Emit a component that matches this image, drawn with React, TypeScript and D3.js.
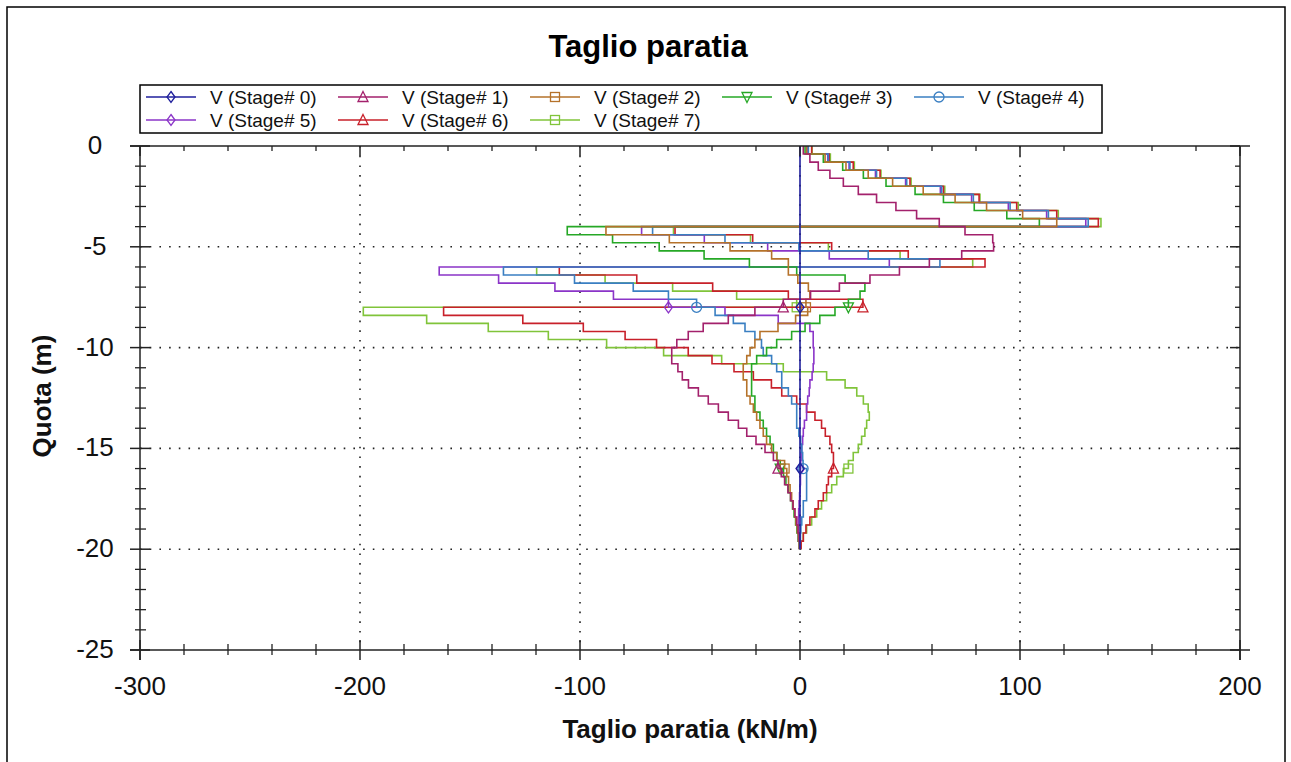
import React from 'react'
import * as d3 from 'd3'

// wall nodes (m), one element between two nodes
const depthNodes = [0, -0.4, -0.8, -1.2, -1.6, -2, -2.4, -2.8, -3.2, -3.6, -4, -4.4, -4.8, -5.2, -5.6, -6, -6.4, -6.8, -7.2, -7.6,
    -8, -8.4, -8.8, -9.2, -9.6, -10, -10.4, -10.8, -11.2, -11.6, -12, -12.4, -12.8, -13.2, -13.6, -14, -14.4, -14.8, -15.2, -15.6,
    -16, -16.4, -16.8, -17.2, -17.6, -18, -18.4, -18.8, -19.2, -19.6, -20]

// shear per element (kN/m)
const stage0 = [0, 0, 0, 0, 0, 0, 0, 0, 0, 0, 0, 0, 0, 0, 0, 0, 0, 0, 0, 0, 0, 0, 0, 0, 0,
    0, 0, 0, 0, 0, 0, 0, 0, 0, 0, 0, 0, 0, 0, 0, 0, 0, 0, 0, 0, 0, 0, 0, 0, 0]
const stage1 = [1.5, 4.5, 8.3, 13.6, 19.7, 26.5, 34.8, 43.6, 53, 63.3,
    75, 87.6, 88, 73.5, 58.8, 45.2, 31.8, 17.9, 4.8, -7.6,
    -20.5, -32.6, -44, -50.8, -56, -58.3, -58.3, -55.5, -53.5, -50.7,
    -46.2, -41.7, -37.1, -32.6, -28, -24.2, -20, -15.9, -12.1, -10,
    -8.5, -7, -5.5, -4.3, -3.2, -2.3, -1.5, -0.9, -0.4, -0.1]
const stage2 = [3, 11.4, 20.9, 31, 42.1, 56, 70.5, 84.8, 101.2, 116.7,
    -88.2, -59.4, -31.8, -12.9, -5.3, -5.3, -1, 3.8, 4.5, 2.7,
    3.5, -2, -10, -18.2, -20.5, -22.7, -24.2, -25.8, -25.8, -24.2,
    -24.2, -22.7, -21.2, -19.7, -18.2, -16.7, -15.2, -12.9, -10.6, -7,
    -6, -5.2, -4.5, -3.8, -3.1, -2.4, -1.8, -1.2, -0.7, -0.3]
const stage3 = [2.3, 10.6, 19.4, 28.8, 39.1, 52.3, 65.2, 79.2, 94, 108.8,
    -105.8, -85.2, -64, -43.6, -23, -1.5, 20.5, 29.5, 27.3, 22,
    15.9, 9, 2.3, -3.8, -10.6, -15.2, -19.7, -22, -22, -22,
    -22, -20.5, -20.5, -18.2, -16.7, -15.2, -13.6, -12.1, -10.5, -9,
    -7.5, -6.4, -5.3, -4.3, -3.4, -2.7, -2, -1.4, -0.8, -0.3]
const stage4 = [3.8, 12.9, 22.7, 34.8, 48.5, 64.4, 78.8, 95.5, 112.9, 131,
    -67, -34.1, -0.5, 31, 63.6, -134.8, -102.5, -75.8, -59.8, -47,
    -38.6, -30.3, -25, -20.5, -17.5, -16.7, -12.9, -10.6, -8.3, -8.3,
    -5.3, -3.8, -1.5, -1.5, -1.5, -0.5, 0.3, 0.8, 1.2, 1.4,
    3, 3, 3, 3, 1.5, 1.5, 0.8, 0.4, 0.2, 0]
const stage5 = [3.6, 12.6, 22.3, 34.3, 48, 63.8, 78, 94.7, 112.1, 129.9,
    -72, -43.5, -14.7, 13.3, 40.6, -164, -137, -111.4, -84.8, -59.8,
    -34.1, -9.9, 4.5, 6, 6, 6.3, 6.3, 6, 5.5, 4.5,
    4.2, 3.5, 3, 3, 2, 1.5, 1.2, 0.8, 0.5, 0.3,
    0.2, 0.2, 0, -0.2, -0.4, -0.6, -0.8, -0.9, -0.8, -0.4]
const stage6 = [5.3, 13.3, 24.2, 36.4, 50, 65.2, 81.4, 98.5, 116.7, 135.6,
    -56.8, -21.5, 14.4, 49.2, 84.1, -109.4, -74.2, -39.7, -5.3, 28.6,
    -162, -126, -98.5, -79.5, -65.2, -50.8, -40, -30, -21.2, -13,
    -8.3, -1.5, 3, 6.8, 9.8, 11.5, 13.6, 14.4, 15.2, 15.2,
    14.4, 12.9, 12.1, 10.6, 8.3, 6.8, 4.5, 2.7, 1.5, 0.5]
const stage7 = [5.5, 13.8, 24.7, 36.8, 50.5, 65.8, 81.8, 99.2, 117.4, 136.8,
    -57.5, -22.5, 12.9, 45.5, 78.5, -119.7, -88.6, -57.9, -28.8, -1.5,
    -198.5, -169.7, -141.7, -114.4, -87.9, -62, -35.6, -7.6, 12.1, 20.5,
    25.8, 28.8, 31, 31.5, 30.3, 29.5, 28, 26.5, 24.2, 22,
    19.7, 16.7, 14.4, 12.1, 9.8, 7.6, 5.3, 3, 1.5, 0.5]

const stageNames = ['V (Stage# 0)', 'V (Stage# 1)', 'V (Stage# 2)', 'V (Stage# 3)',
    'V (Stage# 4)', 'V (Stage# 5)', 'V (Stage# 6)', 'V (Stage# 7)']
const stageValues = [stage0, stage1, stage2, stage3, stage4, stage5, stage6, stage7]
const stageColors = ['#1f1f9c', '#a3216c', '#b5722a', '#26a826', '#3a7fc2', '#8b35c8', '#c8202a', '#80c43a']
const stageMarkers = ['diamond', 'triUp', 'square', 'triDown', 'circle', 'diamond', 'triUp', 'square']
const markerNodes = [20, 40]

const xTicks = [-300, -200, -100, 0, 100, 200]
const yTicks = [0, -5, -10, -15, -20, -25]

const W = 1291
const H = 762
const left = 140, right = 1240, top = 146, bottom = 650
const fontFamily = 'Liberation Sans, Arial, sans-serif'

const x = d3.scaleLinear().domain([-300, 200]).range([left, right])
const y = d3.scaleLinear().domain([-25, 0]).range([bottom, top])

function Marker({ kind, cx, cy, color }: { kind: string, cx: number, cy: number, color: string }) {
    const common = { fill: 'none', stroke: color, strokeWidth: 1.3 }
    if (kind === 'circle') return <circle cx={cx} cy={cy} r={5} {...common} />
    if (kind === 'square') return <rect x={cx - 4.5} y={cy - 4.5} width={9} height={9} {...common} />
    let pts: number[][] = []
    if (kind === 'diamond') pts = [[0, -5.5], [4, 0], [0, 5.5], [-4, 0]]
    if (kind === 'triUp') pts = [[0, -5.5], [5, 4.5], [-5, 4.5]]
    if (kind === 'triDown') pts = [[0, 5.5], [5, -4.5], [-5, -4.5]]
    return <polygon points={pts.map(p => `${cx + p[0]},${cy + p[1]}`).join(' ')} {...common} />
}

function stepPath(values: number[]) {
    const pts: [number, number][] = []
    values.forEach((v, i) => {
        pts.push([v, depthNodes[i]])
        pts.push([v, depthNodes[i + 1]])
    })
    return d3.line<[number, number]>().x(d => x(d[0])).y(d => y(d[1]))(pts) || ''
}

export default function App() {
    const xMinor = d3.range(-300, 201, 20).filter(v => v % 100 !== 0)
    const yMinor = d3.range(-25, 1, 1).filter(v => v % 5 !== 0)
    const axisColor = '#222'
    const legendCols = [146, 338, 530, 722, 914]
    const legendRows = [97, 120]

    return (
        <div style={{ position: 'absolute', left: 0, top: 0 }}>
            <svg width={W} height={H} style={{ display: 'block', background: 'white' }}>
                <defs>
                    <clipPath id="plotClip">
                        <rect x={left} y={top} width={right - left} height={bottom - top} />
                    </clipPath>
                </defs>
                <rect x={7} y={7} width={1278} height={770} fill="white" stroke="#000" strokeWidth={1.5} />

                <text x={648} y={57} textAnchor="middle" fontFamily={fontFamily} fontWeight="bold" fontSize={31}>Taglio paratia</text>

                {/* legend */}
                <rect x={140} y={85} width={962} height={48} fill="white" stroke="#000" strokeWidth={1.5} />
                {stageNames.map((name, i) => {
                    const lx = legendCols[i % 5]
                    const ly = legendRows[Math.floor(i / 5)]
                    return (
                        <g key={name}>
                            <line x1={lx} x2={lx + 50} y1={ly} y2={ly} stroke={stageColors[i]} strokeWidth={1.5} />
                            <Marker kind={stageMarkers[i]} cx={lx + 25} cy={ly} color={stageColors[i]} />
                            <text x={lx + 64} y={ly + 7} fontFamily={fontFamily} fontSize={19} fill="#111">{name}</text>
                        </g>
                    )
                })}

                {/* grid */}
                {xTicks.slice(1, -1).map(t => (
                    <line key={'gx' + t} x1={x(t)} x2={x(t)} y1={top} y2={bottom} stroke="#222" strokeWidth={1.6} strokeDasharray="1.6 8.1" />
                ))}
                {yTicks.slice(1, -1).map(t => (
                    <line key={'gy' + t} x1={left} x2={right} y1={y(t)} y2={y(t)} stroke="#222" strokeWidth={1.6} strokeDasharray="1.6 8.1" />
                ))}

                {/* series, last stage first so stage 0 ends on top */}
                <g clipPath="url(#plotClip)">
                    {stageValues.map((vals, i) => i).reverse().map(i => (
                        <g key={'s' + i}>
                            <path d={stepPath(stageValues[i])} fill="none" stroke={stageColors[i]} strokeWidth={1.6} />
                            {markerNodes.map(n => (
                                <Marker key={n} kind={stageMarkers[i]} cx={x(stageValues[i][n - 1])} cy={y(depthNodes[n])} color={stageColors[i]} />
                            ))}
                        </g>
                    ))}
                </g>

                {/* frame and ticks */}
                <line x1={left - 10} x2={right + 10} y1={top} y2={top} stroke={axisColor} strokeWidth={1.5} />
                <line x1={left - 10} x2={right + 10} y1={bottom} y2={bottom} stroke={axisColor} strokeWidth={1.5} />
                <line x1={left} x2={left} y1={top} y2={bottom + 10} stroke={axisColor} strokeWidth={1.5} />
                <line x1={right} x2={right} y1={top} y2={bottom + 10} stroke={axisColor} strokeWidth={1.5} />
                {xMinor.map(t => (
                    <g key={'xm' + t}>
                        <line x1={x(t)} x2={x(t)} y1={bottom - 6} y2={bottom + 5} stroke={axisColor} strokeWidth={1.3} />
                        <line x1={x(t)} x2={x(t)} y1={top} y2={top + 5} stroke={axisColor} strokeWidth={1.3} />
                    </g>
                ))}
                {xTicks.map(t => (
                    <g key={'xM' + t}>
                        <line x1={x(t)} x2={x(t)} y1={bottom - 10} y2={bottom + 10} stroke={axisColor} strokeWidth={1.5} />
                        <line x1={x(t)} x2={x(t)} y1={top} y2={top + 10} stroke={axisColor} strokeWidth={1.5} />
                        <text x={x(t)} y={695} textAnchor="middle" fontFamily={fontFamily} fontSize={26} fill="#111">{t}</text>
                    </g>
                ))}
                {yMinor.map(t => (
                    <g key={'ym' + t}>
                        <line x1={left - 5} x2={left + 6} y1={y(t)} y2={y(t)} stroke={axisColor} strokeWidth={1.3} />
                        <line x1={right - 5} x2={right} y1={y(t)} y2={y(t)} stroke={axisColor} strokeWidth={1.3} />
                    </g>
                ))}
                {yTicks.map(t => (
                    <g key={'yM' + t}>
                        <line x1={left - 10} x2={left + 10} y1={y(t)} y2={y(t)} stroke={axisColor} strokeWidth={1.5} />
                        <line x1={right - 10} x2={right} y1={y(t)} y2={y(t)} stroke={axisColor} strokeWidth={1.5} />
                        <text x={95} y={y(t) + 8} textAnchor="middle" fontFamily={fontFamily} fontSize={26} fill="#111">{t}</text>
                    </g>
                ))}

                <text x={690} y={738} textAnchor="middle" fontFamily={fontFamily} fontWeight="bold" fontSize={26} fill="#111">Taglio paratia (kN/m)</text>
                <text transform="translate(51,396) rotate(-90)" textAnchor="middle" fontFamily={fontFamily} fontWeight="bold" fontSize={26} fill="#111">Quota (m)</text>
            </svg>
        </div>
    )
}
